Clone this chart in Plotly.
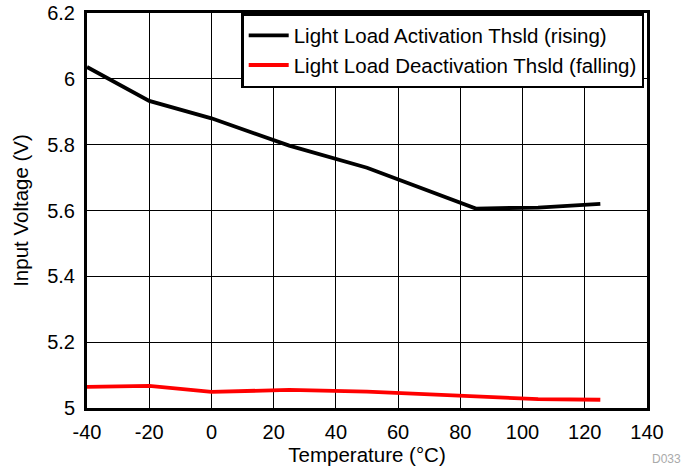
import plotly.graph_objects as go

temps = [-40, -20, 0, 25, 50, 85, 105, 125]
rising = [6.036, 5.933, 5.88, 5.797, 5.73, 5.606, 5.609, 5.62]
falling = [5.064, 5.067, 5.049, 5.055, 5.05, 5.036, 5.027, 5.025]

x_ticks = [-40, -20, 0, 20, 40, 60, 80, 100, 120, 140]
y_ticks = [5, 5.2, 5.4, 5.6, 5.8, 6, 6.2]
y_labels = ["5", "5.2", "5.4", "5.6", "5.8", "6", "6.2"]

fig = go.Figure()
fig.add_trace(go.Scatter(x=temps, y=rising, mode="lines",
                         line=dict(color="black", width=3.8),
                         name="Light Load Activation Thsld (rising)"))
fig.add_trace(go.Scatter(x=temps, y=falling, mode="lines",
                         line=dict(color="#ff0000", width=3.8),
                         name="Light Load Deactivation Thsld (falling)"))

fig.update_layout(
    width=685, height=469,
    margin=dict(l=87, r=38, t=13, b=61, autoexpand=False),
    paper_bgcolor="white", plot_bgcolor="white",
    font=dict(family="Liberation Sans, Arial", size=20, color="black"),
    legend=dict(x=0.995, y=1, xanchor="right", yanchor="top",
                bgcolor="white", bordercolor="black", borderwidth=2.5,
                font=dict(size=20.5), tracegroupgap=0, itemwidth=40),
    showlegend=True,
)
fig.update_xaxes(range=[-40, 140], tickvals=x_ticks, ticktext=[str(v) for v in x_ticks],
                 showgrid=True, gridcolor="black", gridwidth=1,
                 showline=True, linecolor="black", linewidth=3, mirror=True,
                 ticks="outside", ticklen=4, tickcolor="rgba(0,0,0,0)",
                 zeroline=False, automargin=False, ticklabeloverflow="allow",
                 title=dict(text="Temperature (°C)", standoff=2, font=dict(size=20.5)))
fig.update_yaxes(range=[5, 6.2], tickvals=y_ticks, ticktext=y_labels,
                 showgrid=True, gridcolor="black", gridwidth=1,
                 showline=True, linecolor="black", linewidth=3, mirror=True,
                 ticks="outside", ticklen=5, tickcolor="rgba(0,0,0,0)",
                 zeroline=False, automargin=False, ticklabeloverflow="allow",
                 title=dict(text="Input Voltage (V)", standoff=14, font=dict(size=20.5)))
fig.add_annotation(text="D033", xref="paper", yref="paper", x=1.064, y=-0.152,
                   xanchor="right", yanchor="bottom", showarrow=False,
                   font=dict(size=12, color="#aaaaaa"))
fig.write_html("out.html", config={"displayModeBar": False},
               post_script="document.body.style.margin='0';document.body.style.padding='0';")
